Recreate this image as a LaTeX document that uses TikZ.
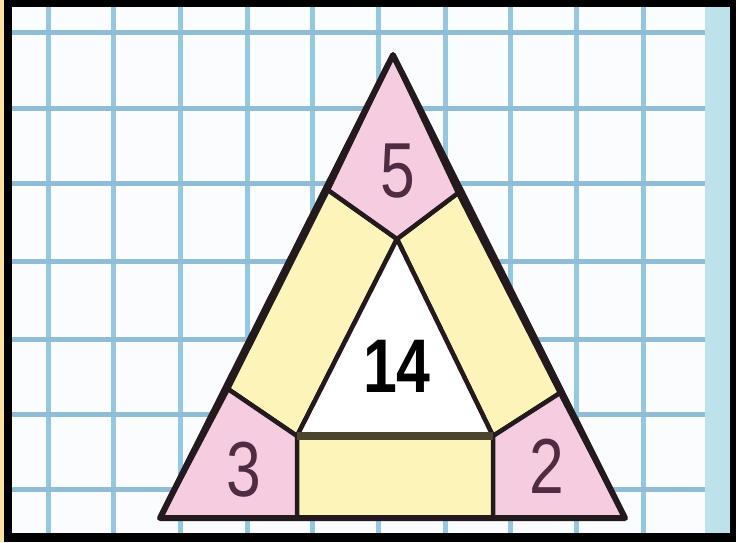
\documentclass[tikz,border=0pt]{standalone}
\usepackage{fontspec}
\setmainfont{Liberation Sans}
\usetikzlibrary{calc}

\definecolor{gridblue}{RGB}{146,200,228}
\definecolor{stripblue}{RGB}{190,226,236}
\definecolor{paper}{RGB}{250,252,253}
\definecolor{cornerpink}{RGB}{246,204,224}
\definecolor{sideyellow}{RGB}{252,244,184}
\definecolor{inkdark}{RGB}{36,26,30}
\definecolor{baseolive}{RGB}{74,70,46}
\definecolor{digitplum}{RGB}{80,44,66}
\definecolor{edgeyellow}{RGB}{255,226,160}

\newcommand\slimdigit[1]{\scalebox{0.8}[1]{#1}}

\tikzset{
  gridline/.style={draw=gridblue, line width=5pt},
  region/.style={draw=inkdark, line width=4.5pt},
  digit/.style={text=digitplum, inner sep=0pt, font=\fontsize{78}{78}\selectfont},
  total/.style={text=black, inner sep=0pt, font=\fontsize{76}{76}\selectfont\bfseries},
}

\begin{document}
\begin{tikzpicture}[line cap=round, line join=round, x=1pt, y=-1pt]
  % frame and squared paper
  \fill[black] (0,0) rectangle (736,542);
  \fill[edgeyellow] (0,0) rectangle (4,542);
  \fill[paper] (12,7) rectangle (730,533);
  \fill[stripblue] (705,7) rectangle (730,533);
  \foreach \gx in {48,113,180,247,312,378,445,510,576,643}
    \draw[gridline, line cap=butt] (\gx,7) -- (\gx,533);
  \foreach \gy in {32,108,183,261,339,414,489}
    \draw[gridline, line cap=butt, draw=gridblue!85!gray] (12,\gy) -- (705,\gy);

  % corners of the big triangle and the cut points
  \coordinate (top) at (393,55);
  \coordinate (botL) at (160,518);
  \coordinate (botR) at (625,518);
  \coordinate (cutTL) at (328,190);
  \coordinate (cutTR) at (458,193);
  \coordinate (cutBL) at (228,389);
  \coordinate (cutBR) at (560,393);
  \coordinate (inTop) at (397,239);
  \coordinate (inL) at (297,436);
  \coordinate (inR) at (493,436);
  \coordinate (baseL) at (297,518);
  \coordinate (baseR) at (493,518);

  % pieces
  \filldraw[region, fill=sideyellow] (cutTL) -- (inTop) -- (inL) -- (cutBL) -- cycle;
  \filldraw[region, fill=sideyellow] (cutTR) -- (cutBR) -- (inR) -- (inTop) -- cycle;
  \filldraw[region, fill=sideyellow] (inL) -- (inR) -- (baseR) -- (baseL) -- cycle;
  \filldraw[region, fill=white] (inTop) -- (inR) -- (inL) -- cycle;
  \filldraw[region, fill=cornerpink] (top) -- (cutTR) -- (inTop) -- (cutTL) -- cycle;
  \filldraw[region, fill=cornerpink] (cutBL) -- (inL) -- (baseL) -- (botL) -- cycle;
  \filldraw[region, fill=cornerpink] (cutBR) -- (botR) -- (baseR) -- (inR) -- cycle;
  \draw[draw=baseolive, line width=8pt, line cap=butt] (inL) -- (inR);
  \draw[region, line width=6pt] (top) -- (botL) -- (botR) -- cycle;

  % numbers
  \node[digit] (five) at (398,171) {\slimdigit{5}};
  \node[digit] (three) at (244,470) {\slimdigit{3}};
  \node[digit] (two) at (547,466) {\slimdigit{2}};
  \node[total] (sum) at (397,366) {\slimdigit{14}};
\end{tikzpicture}
\end{document}
